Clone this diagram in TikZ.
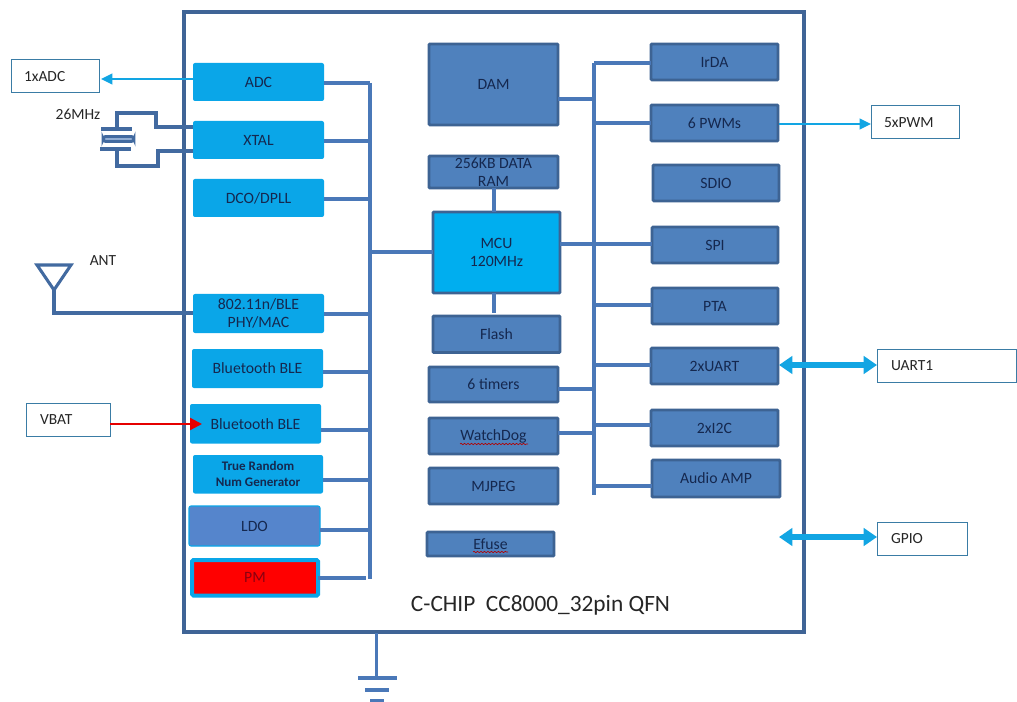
\documentclass[tikz,border=0pt]{standalone}
\usepackage{fontspec}
\setmainfont{Carlito}
\usetikzlibrary{arrows.meta,decorations.pathmorphing}
\definecolor{chipline}{HTML}{3F6496}
\definecolor{busline}{HTML}{4A78B8}
\definecolor{bluefill}{HTML}{4F81BD}
\definecolor{blueedge}{HTML}{3D6393}
\definecolor{cyanfill}{HTML}{0AA6E8}
\definecolor{mcufill}{HTML}{00AEEF}
\definecolor{arrowcyan}{HTML}{12A5E3}
\definecolor{ink}{HTML}{15284F}
\definecolor{extedge}{HTML}{3A7CA5}
\definecolor{ldofill}{HTML}{5585CC}
\definecolor{pmink}{HTML}{8A0010}
\tikzset{
  x=.75pt,y=-.75pt,
  boxbase/.style={outer sep=0pt,inner sep=0pt,text=ink,align=center,
    font=\fontsize{11.8}{13.5}\selectfont},
  bluebox/.style={boxbase,fill=bluefill,draw=blueedge,line width=2.2pt,rounded corners=.8pt},
  cyanbox/.style={boxbase,fill=cyanfill,rounded corners=1.5pt},
  mcubox/.style={boxbase,fill=mcufill,draw=blueedge,line width=2.2pt,rounded corners=.8pt},
  ldobox/.style={boxbase,fill=ldofill,draw=cyanfill,line width=.8pt,rounded corners=1.5pt},
  pmbox/.style={boxbase,fill=red,draw=cyanfill,line width=3pt,rounded corners=1pt,text=pmink},
  extbox/.style={outer sep=0pt,inner ysep=0pt,draw=extedge,line width=.75pt,fill=white,
    align=left,text=black!85,font=\fontsize{11.6}{13}\selectfont},
  plain/.style={outer sep=0pt,inner sep=0pt,text=black!85,font=\fontsize{11.6}{13}\selectfont},
  bus/.style={draw=busline,line width=2.4pt},
  wire/.style={draw=chipline!70!busline,line width=2.3pt},
  sigcyan/.style={draw=arrowcyan,line width=1.4pt,-{Triangle[length=8.5pt,width=8pt]}},
  sigred/.style={draw=red!90!black,line width=1.7pt,-{Triangle[length=9pt,width=9pt]}},
  bigarrow/.style={draw=arrowcyan,line width=4.5pt,{Triangle[length=10pt,width=13pt]}-{Triangle[length=10pt,width=13pt]}},
  squiggle/.style={draw=red!70!black,line width=.5pt,decorate,decoration={snake,amplitude=.5pt,segment length=2.6pt}},
}
\newcommand{\pxbox}[7]{%
  \pgfmathsetmacro{\pxw}{(#5-#3)*.75}%
  \pgfmathsetmacro{\pxh}{(#6-#4)*.75}%
  \node[#2,minimum width=\pxw pt,minimum height=\pxh pt] (#1) at ({(#3+#5)/2},{(#4+#6)/2}) {#7};%
}
\newcommand{\pxext}[7]{%
  % name, left, top, right, bottom, left pad, text
  \pgfmathsetmacro{\pxw}{(#4-#2-2*#6)*.75}%
  \pgfmathsetmacro{\pxh}{(#5-#3)*.75}%
  \pgfmathsetmacro{\pxp}{#6*.75}%
  \node[extbox,inner xsep=\pxp pt,text width=\pxw pt,minimum height=\pxh pt] (#1) at ({(#2+#4)/2},{(#3+#5)/2}) {#7};%
}
\begin{document}
\begin{tikzpicture}
\useasboundingbox (0,0) rectangle (1017,702);
\fill[white] (0,0) rectangle (1017,702);

% chip outline
\pxbox{chip}{draw=chipline,line width=2.4pt,outer sep=0pt}{184}{12}{804}{632}{}

% buses
\coordinate (busLtop) at (370,83);
\coordinate (busLbot) at (370,579);
\coordinate (busRtop) at (594,63);
\coordinate (busRbot) at (594,495);
\draw[bus] (busLtop) -- (busLbot);
\draw[bus] (busRtop) -- (busRbot);

% left column
\pxbox{adc}{cyanbox}{193}{63}{324}{101}{ADC}
\pxbox{xtal}{cyanbox}{193}{121}{324}{159}{XTAL}
\pxbox{dco}{cyanbox}{193}{179}{324}{217}{DCO/DPLL}
\pxbox{phy}{cyanbox}{193}{294}{324}{333}{802.11n/BLE\\PHY/MAC}
\pxbox{bleA}{cyanbox}{192}{349}{323}{388}{Bluetooth BLE}
\pxbox{bleB}{cyanbox}{190}{404}{321}{443.5}{Bluetooth BLE}
\pxbox{trng}{cyanbox,font=\fontsize{9.8}{12}\selectfont\bfseries}{193}{455}{323}{493.5}{True Random\\Num Generator}
\pxbox{ldo}{ldobox}{189}{506}{320}{546}{LDO}
\pxbox{pm}{pmbox}{192}{560}{318}{595.5}{PM}

% middle column
\pxbox{dam}{bluebox}{429}{44}{558}{125}{DAM}
\pxbox{ram}{bluebox}{429}{156}{558}{188}{256KB DATA\\RAM}
\pxbox{mcu}{mcubox}{433}{212}{560}{293}{MCU\\120MHz}
\pxbox{flash}{bluebox}{433}{316}{560}{352.5}{Flash}
\pxbox{timers}{bluebox}{429}{367}{558}{402}{6 timers}
\pxbox{wdog}{bluebox}{429}{418}{558}{454}{WatchDog}
\pxbox{mjpeg}{bluebox}{429}{468}{558}{504}{MJPEG}
\pxbox{efuse}{bluebox}{427}{532}{554}{556}{Efuse}

% right column
\pxbox{irda}{bluebox}{651}{44}{778}{80}{IrDA}
\pxbox{pwm}{bluebox}{651}{105}{778}{141}{6 PWMs}
\pxbox{sdio}{bluebox}{653}{165}{779}{201}{SDIO}
\pxbox{spi}{bluebox}{652}{227}{778}{263}{SPI}
\pxbox{pta}{bluebox}{652}{288}{778}{324}{PTA}
\pxbox{uart}{bluebox}{651}{348}{778}{384}{2xUART}
\pxbox{iic}{bluebox}{651}{410}{778}{446}{2xI2C}
\pxbox{audio}{bluebox}{652}{460}{780}{497}{Audio AMP}

% left stubs
\coordinate (sL1) at (370,83);
\coordinate (sL2) at (370,141);
\coordinate (sL3) at (370,199);
\coordinate (sL4) at (370,314);
\coordinate (sL5) at (370,372);
\coordinate (sL6) at (370,430);
\coordinate (sL7) at (370,480);
\coordinate (sL8) at (368,530);
\coordinate (sL9) at (366,578);
\draw[bus] (sL1) -- (sL1 -| adc.east);
\draw[bus] (sL2) -- (sL2 -| xtal.east);
\draw[bus] (sL3) -- (sL3 -| dco.east);
\draw[bus] (sL4) -- (sL4 -| phy.east);
\draw[bus] (sL5) -- (sL5 -| bleA.east);
\draw[bus] (sL6) -- (sL6 -| bleB.east);
\draw[bus] (sL7) -- (sL7 -| trng.east);
\draw[bus] (sL8) -- (sL8 -| ldo.east);
\draw[bus] (sL9) -- (sL9 -| pm.east);
\coordinate (sLm) at (370,252);
\draw[bus] (sLm) -- (sLm -| mcu.west);

% right stubs
\coordinate (sR1) at (594,63);
\coordinate (sR2) at (594,123);
\coordinate (sR3) at (594,244);
\coordinate (sR4) at (594,305);
\coordinate (sR5) at (594,365);
\coordinate (sR6) at (594,425);
\coordinate (sR7) at (594,486);
\draw[bus] (sR1) -- (sR1 -| irda.west);
\draw[bus] (sR2) -- (sR2 -| pwm.west);
\draw[bus] (sR3) -- (sR3 -| spi.west);
\draw[bus] (sR4) -- (sR4 -| pta.west);
\draw[bus] (sR5) -- (sR5 -| uart.west);
\draw[bus] (sR6) -- (sR6 -| iic.west);
\draw[bus] (sR7) -- (sR7 -| audio.west);
\draw[bus] (sR3) -- (sR3 -| mcu.east);
\coordinate (sD1) at (594,99);
\coordinate (sD2) at (594,389);
\coordinate (sD3) at (594,433);
\draw[bus] (sD1) -- (sD1 -| dam.east);
\draw[bus] (sD2) -- (sD2 -| timers.east);
\draw[bus] (sD3) -- (sD3 -| wdog.east);

% vertical links round the MCU
\coordinate (mcuTop) at (494,212);
\coordinate (ramBot) at (494,188);
\coordinate (mcuBot) at (494,293);
\coordinate (flashGap) at (494,313);
\draw[bus,line width=2.6pt] (ramBot) -- (mcuTop);
\draw[bus,line width=2.6pt] (mcuBot) -- (flashGap);

% external boxes
\pxext{xadc}{11}{60}{99}{93}{13}{1xADC}
\pxext{xpwm}{871}{106}{959}{139}{13}{5xPWM}
\pxext{xuart}{877}{349}{1016.5}{382}{14}{UART1}
\pxext{xgpio}{877}{522}{967}{555}{14}{GPIO}
\pxext{xvbat}{26}{403}{110}{436}{14}{VBAT}

% signal arrows
\coordinate (adcOut) at (193,79);
\coordinate (adcTip) at (101,79);
\coordinate (pwmOut) at (779,124);
\coordinate (vbatIn) at (202,424);
\coordinate (uartOut) at (779,365);
\coordinate (gpioIn) at (779,537);
\draw[sigcyan] (adcOut) -- (adcTip);
\draw[sigcyan] (pwmOut) -- (pwmOut -| xpwm.west);
\draw[sigred] (vbatIn -| xvbat.east) -- (vbatIn);
\draw[bigarrow] (uartOut) -- (uartOut -| xuart.west);
\draw[bigarrow] (gpioIn) -- (gpioIn -| xgpio.west);

% crystal
\node[plain] (fmhz) at (78,114) {26MHz};
\coordinate (cTopPl) at (117,129);
\coordinate (cBotPl) at (117,149);
\coordinate (cUpR) at (156,113);
\coordinate (cDnR) at (158,166);
\coordinate (cIn1) at (156,127);
\coordinate (cIn2) at (158,151);
\draw[wire,line join=miter] (cTopPl) -- (cTopPl |- cUpR) -- (cUpR) -- (cIn1) -- (cIn1 -| xtal.west);
\draw[wire,line join=miter] (cBotPl) -- (cBotPl |- cDnR) -- (cDnR) -- (cIn2) -- (cIn2 -| xtal.west);
\draw[wire,line width=3pt] (101,129) -- (132,129);
\draw[wire,line width=3pt] (100,149) -- (131,149);
\draw[wire,line width=2.2pt,fill=busline!60!white,rounded corners=2pt] (103,136.5) rectangle (134,141.5);

% antenna
\node[plain] (ant) at (103,261) {ANT};
\coordinate (antTL) at (37,265);
\coordinate (antTR) at (71,265);
\coordinate (antTip) at (54,290);
\coordinate (antBot) at (54,313);
\draw[wire,line join=miter] (antTL) -- (antTR) -- (antTip) -- cycle;
\draw[wire] (antTip) -- (antBot) -- (antBot -| phy.west);

% title
\node[plain,font=\fontsize{17.5}{20}\selectfont,text=black!85] (title) at (540.5,605) {C-CHIP\ \ CC8000\_32pin QFN};

% spell-check squiggles
\coordinate (wq1) at (460,444);
\coordinate (wq2) at (528,444);
\coordinate (eq1) at (473,552);
\coordinate (eq2) at (508,552);
\draw[squiggle] (wq1) -- (wq2);
\draw[squiggle] (eq1) -- (eq2);

% ground
\coordinate (gndTop) at (376.5,633);
\coordinate (gndA) at (376.5,678);
\draw[bus] (gndTop) -- (gndA);
\draw[bus] (358,678) -- (397,678);
\draw[bus] (365,690) -- (389,690);
\draw[bus] (370,700.5) -- (384,700.5);
\end{tikzpicture}
\end{document}
